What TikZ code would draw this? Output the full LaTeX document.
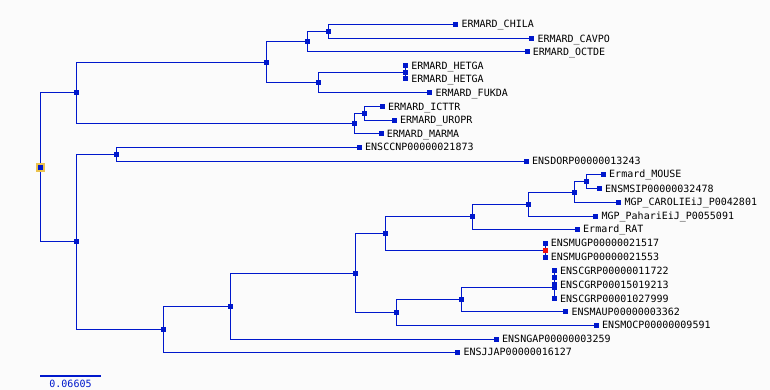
\documentclass[tikz,border=0pt]{standalone}
\usepackage{fontspec}
\setmonofont{DejaVu Sans Mono}
\usepackage{xcolor}
\usetikzlibrary{positioning, backgrounds}

\definecolor{treeblue}{HTML}{0018CC}
\definecolor{rootgold}{HTML}{EBC34E}
\definecolor{selred}{HTML}{F01010}
\definecolor{paper}{HTML}{FBFBFB}

\begin{document}
\begin{tikzpicture}[
    x=1pt, y=-1pt,
    % Styles
    inode/.style={rectangle, fill=treeblue, minimum size=5pt, inner sep=0pt},
    leaf/.style={rectangle, fill=treeblue, minimum size=5pt, inner sep=0pt},
    rootbox/.style={rectangle, fill=treeblue, draw=rootgold, line width=2pt, minimum size=7pt, inner sep=0pt},
    selbox/.style={rectangle, fill=selred, minimum size=5pt, inner sep=0pt},
    taxon/.style={anchor=west, inner sep=1pt, text height=7.3pt, text depth=0pt, font=\ttfamily\fontsize{10}{10}\selectfont},
    branch/.style={draw=treeblue, line width=1pt},
    scalebar/.style={draw=treeblue, line width=2pt},
    scaletext/.style={text=treeblue, inner sep=0pt, text height=7.3pt, text depth=0pt, font=\ttfamily\fontsize{10}{10}\selectfont},
]
\useasboundingbox (0,0) rectangle (770,390);

% ===== INTERNAL NODES =====
\node[rootbox] (root) at (40.3,167.3) {};
\node[inode] (upper) at (76.3,92.3) {};
\node[inode] (hyst) at (266.3,62.3) {};
\node[inode] (cav) at (307.3,41.3) {};
\node[inode] (chicav) at (328.3,31.3) {};
\node[inode] (bath) at (318.3,82.3) {};
\node[inode] (hetga) at (405.5,72.3) {};
\node[inode] (sciu) at (354.3,123.3) {};
\node[inode] (icturo) at (364.3,113.3) {};
\node[inode] (lower) at (76.3,241.3) {};
\node[inode] (dipo) at (116.3,154.3) {};
\node[inode] (muro) at (163.3,329.3) {};
\node[inode] (nga) at (230.3,306.3) {};
\node[inode] (murcri) at (355.3,273.3) {};
\node[inode] (murid) at (385.3,233.3) {};
\node[inode] (mur) at (472.3,216.3) {};
\node[inode] (mus) at (528.3,204.3) {};
\node[inode] (musx) at (574.3,192.3) {};
\node[inode] (musy) at (586.3,181.3) {};
\node[selbox] (mug) at (545,250.3) {};
\node[inode] (crice) at (396.3,312.3) {};
\node[inode] (cgrmau) at (461.3,299.3) {};
\node[inode] (cgr) at (554.3,287.7) {};
\node[inode] (cgrb) at (554.3,277.7) {};

% ===== LEAVES =====
\node[leaf] (chila) at (455.7,24.3) {};
\node[taxon, right=2pt of chila] (chila-t) {ERMARD\_CHILA};
\node[leaf] (cavpo) at (531.7,38.5) {};
\node[taxon, right=2pt of cavpo] (cavpo-t) {ERMARD\_CAVPO};
\node[leaf] (octde) at (527,51.7) {};
\node[taxon, right=2pt of octde] (octde-t) {ERMARD\_OCTDE};
\node[leaf] (hetgaa) at (405.5,65.5) {};
\node[taxon, right=2pt of hetgaa] (hetgaa-t) {ERMARD\_HETGA};
\node[leaf] (hetgab) at (405.5,79) {};
\node[taxon, right=2pt of hetgab] (hetgab-t) {ERMARD\_HETGA};
\node[leaf] (fukda) at (429.7,92.5) {};
\node[taxon, right=2pt of fukda] (fukda-t) {ERMARD\_FUKDA};
\node[leaf] (icttr) at (382.3,106.7) {};
\node[taxon, right=2pt of icttr] (icttr-t) {ERMARD\_ICTTR};
\node[leaf] (uropr) at (394.3,120.3) {};
\node[taxon, right=2pt of uropr] (uropr-t) {ERMARD\_UROPR};
\node[leaf] (marma) at (381,134) {};
\node[taxon, right=2pt of marma] (marma-t) {ERMARD\_MARMA};
\node[leaf] (ccnp) at (359.3,147.3) {};
\node[taxon, right=2pt of ccnp] (ccnp-t) {ENSCCNP00000021873};
\node[leaf] (dorp) at (526.3,161.3) {};
\node[taxon, right=2pt of dorp] (dorp-t) {ENSDORP00000013243};
\node[leaf] (mouse) at (603.3,174.3) {};
\node[taxon, right=2pt of mouse] (mouse-t) {Ermard\_MOUSE};
\node[leaf] (msip) at (599.3,188.7) {};
\node[taxon, right=2pt of msip] (msip-t) {ENSMSIP00000032478};
\node[leaf] (caroli) at (618.7,202.3) {};
\node[taxon, right=2pt of caroli] (caroli-t) {MGP\_CAROLIEiJ\_P0042801};
\node[leaf] (pahari) at (595.7,216.3) {};
\node[taxon, right=2pt of pahari] (pahari-t) {MGP\_PahariEiJ\_P0055091};
\node[leaf] (rat) at (577.3,229.3) {};
\node[taxon, right=2pt of rat] (rat-t) {Ermard\_RAT};
\node[leaf] (muga) at (545,243.3) {};
\node[taxon, right=2pt of muga] (muga-t) {ENSMUGP00000021517};
\node[leaf] (mugb) at (545,257.3) {};
\node[taxon, right=2pt of mugb] (mugb-t) {ENSMUGP00000021553};
\node[leaf] (cgra) at (554.3,270.7) {};
\node[taxon, right=2pt of cgra] (cgra-t) {ENSCGRP00000011722};
\node[leaf] (cgrbb) at (554.3,284.7) {};
\node[taxon, right=2pt of cgrbb] (cgrbb-t) {ENSCGRP00015019213};
\node[leaf] (cgrc) at (554.3,298.7) {};
\node[taxon, right=2pt of cgrc] (cgrc-t) {ENSCGRP00001027999};
\node[leaf] (maup) at (565.7,311.7) {};
\node[taxon, right=2pt of maup] (maup-t) {ENSMAUP00000003362};
\node[leaf] (mocp) at (596.3,325.3) {};
\node[taxon, right=2pt of mocp] (mocp-t) {ENSMOCP00000009591};
\node[leaf] (ngap) at (496.3,339.3) {};
\node[taxon, right=2pt of ngap] (ngap-t) {ENSNGAP00000003259};
\node[leaf] (jjap) at (457.7,352.3) {};
\node[taxon, right=2pt of jjap] (jjap-t) {ENSJJAP00000016127};

% ===== BRANCHES =====
\begin{scope}[on background layer]
\fill[paper] (0,0) rectangle (770,390);
% upper clade
\draw[branch] (root.center) |- (upper.center);
\draw[branch] (upper.center) |- (hyst.center);
\draw[branch] (upper.center) |- (sciu.center);
\draw[branch] (hyst.center) |- (cav.center);
\draw[branch] (hyst.center) |- (bath.center);
\draw[branch] (cav.center) |- (chicav.center);
\draw[branch] (cav.center) |- (octde.center);
\draw[branch] (chicav.center) |- (chila.center);
\draw[branch] (chicav.center) |- (cavpo.center);
\draw[branch] (bath.center) |- (hetga.center);
\draw[branch] (bath.center) |- (fukda.center);
\draw[branch] (hetga.center) -- (hetgaa.center);
\draw[branch] (hetga.center) -- (hetgab.center);
\draw[branch] (sciu.center) |- (icturo.center);
\draw[branch] (sciu.center) |- (marma.center);
\draw[branch] (icturo.center) |- (icttr.center);
\draw[branch] (icturo.center) |- (uropr.center);
% lower clade
\draw[branch] (root.center) |- (lower.center);
\draw[branch] (lower.center) |- (dipo.center);
\draw[branch] (lower.center) |- (muro.center);
\draw[branch] (dipo.center) |- (ccnp.center);
\draw[branch] (dipo.center) |- (dorp.center);
\draw[branch] (muro.center) |- (nga.center);
\draw[branch] (muro.center) |- (jjap.center);
\draw[branch] (nga.center) |- (murcri.center);
\draw[branch] (nga.center) |- (ngap.center);
\draw[branch] (murcri.center) |- (murid.center);
\draw[branch] (murcri.center) |- (crice.center);
\draw[branch] (murid.center) |- (mur.center);
\draw[branch] (murid.center) |- (mug.center);
\draw[branch] (mur.center) |- (mus.center);
\draw[branch] (mur.center) |- (rat.center);
\draw[branch] (mus.center) |- (musx.center);
\draw[branch] (mus.center) |- (pahari.center);
\draw[branch] (musx.center) |- (musy.center);
\draw[branch] (musx.center) |- (caroli.center);
\draw[branch] (musy.center) |- (mouse.center);
\draw[branch] (musy.center) |- (msip.center);
\draw[branch] (mug.center) -- (muga.center);
\draw[branch] (mug.center) -- (mugb.center);
\draw[branch] (crice.center) |- (cgrmau.center);
\draw[branch] (crice.center) |- (mocp.center);
\draw[branch] (cgrmau.center) |- (cgr.center);
\draw[branch] (cgrmau.center) |- (maup.center);
\draw[branch] (cgr.center) -- (cgrb.center);
\draw[branch] (cgr.center) -- (cgrc.center);
\draw[branch] (cgrb.center) -- (cgra.center);
\draw[branch] (cgrb.center) -- (cgrbb.center);
\end{scope}

% ===== SCALE BAR =====
\coordinate (sbl) at (40,375.7);
\coordinate (sbr) at (101,375.7);
\draw[scalebar] (sbl) -- (sbr);
\node[scaletext] (sblabel) at (70.5,384) {0.06605};

\end{tikzpicture}
\end{document}
